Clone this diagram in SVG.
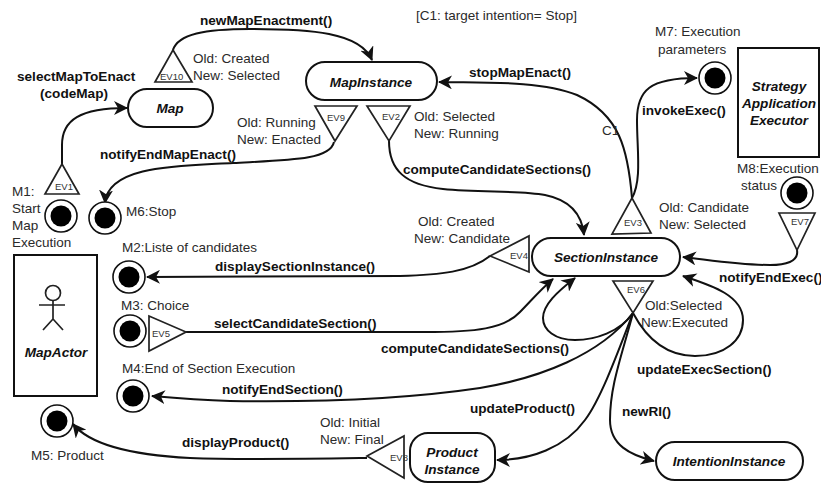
<svg xmlns="http://www.w3.org/2000/svg" width="821" height="486" viewBox="0 0 821 486">
<style>
text{font-family:"Liberation Sans",Arial,sans-serif;font-size:13.5px;fill:#2a2a2a}
.b{font-weight:bold;font-size:13.6px;fill:#111}
.i{font-weight:bold;font-style:italic;font-size:13.6px;fill:#111;text-anchor:middle}
.e{font-size:9.5px;fill:#333}
.s{fill:#fff;stroke:#111;stroke-width:2}
.t{fill:none;stroke:#222;stroke-width:1.7}
.c{fill:none;stroke:#111;stroke-width:2}
.o{fill:#fff;stroke:#111;stroke-width:1.6}
</style>
<defs>
<marker id="a" viewBox="0 0 14 14" refX="13" refY="7" markerWidth="14" markerHeight="14" markerUnits="userSpaceOnUse" orient="auto"><path d="M0 0L14 7L0 14L4 7Z" fill="#111"/></marker>
<g id="msg"><circle r="16" class="o"/><circle r="10.5" fill="#000"/></g>
</defs>
<rect width="821" height="486" fill="#fff"/>
<g id="connectors">
<path class="c" marker-end="url(#a)" d="M62 164V145C62 120 80 108 127 108"/>
<path class="c" marker-end="url(#a)" d="M173 50C178 34 205 29 250 29C310 29 360 32 372 60"/>
<path class="c" marker-end="url(#a)" d="M334 142C330 160 290 160 233 163C180 166 108 165 105 203"/>
<path class="c" marker-end="url(#a)" d="M389 141C389 170 405 185 443 189C480 193 520 190 545 195C570 200 582 215 584 235"/>
<path class="c" marker-end="url(#a)" d="M632 198C628 150 620 115 577 95C540 80 480 83 439 82"/>
<path class="c" marker-end="url(#a)" d="M632 198C642 180 637 150 637 120C637 90 650 78 697 78"/>
<path class="c" marker-end="url(#a)" d="M797 250C799 262 785 265 770 265C740 265 710 260 683 257"/>
<path class="c" marker-end="url(#a)" d="M490 256C470 272 440 275 400 276C320 277 230 276 147 277"/>
<path class="c" marker-end="url(#a)" d="M186 332H410C480 333 505 328 520 312C530 302 540 290 553 279"/>
<path class="c" marker-end="url(#a)" d="M633 313C620 332 595 340 575 340C555 340 543 330 543 318C543 305 557 292 575 278"/>
<path class="c" marker-end="url(#a)" d="M633 313C600 355 540 378 480 388C400 400 300 402 230 401C200 400 175 398 152 396"/>
<path class="c" marker-end="url(#a)" d="M633 313C650 345 672 356 695 356C725 356 743 340 743 320C743 295 710 285 683 276"/>
<path class="c" marker-end="url(#a)" d="M633 313C615 360 600 400 585 420C565 448 530 460 497 460"/>
<path class="c" marker-end="url(#a)" d="M633 313C622 355 610 385 610 420C610 445 630 455 654 461"/>
<path class="c" marker-end="url(#a)" d="M367 458C300 459 240 460 190 458C130 455 90 445 73 424"/>
</g>
<g id="Map"><rect class="s" x="128" y="89" width="85" height="38" rx="19"/><text class="i" x="170" y="113">Map</text></g>
<g id="MapInstance"><rect class="s" x="306" y="62" width="131" height="38" rx="19"/><text class="i" x="371" y="87">MapInstance</text></g>
<g id="SectionInstance"><rect class="s" x="532" y="238" width="148" height="38" rx="19"/><text class="i" x="606" y="262">SectionInstance</text></g>
<g id="ProductInstance"><rect class="s" x="410" y="433" width="85" height="49" rx="18"/><text class="i" x="452" y="457">Product</text><text class="i" x="452" y="474">Instance</text></g>
<g id="IntentionInstance"><rect class="s" x="656" y="442" width="147" height="38" rx="19"/><text class="i" x="729" y="466">IntentionInstance</text></g>
<g id="MapActor"><rect class="s" x="14" y="255" width="83" height="141"/>
<g class="t"><circle cx="53" cy="293" r="7.5"/><path d="M53 300V319M39 305H65M53 319L43 330M53 319L63 330"/></g>
<text class="i" x="56" y="357">MapActor</text></g>
<g id="StrategyApplicationExecutor"><rect class="s" x="738" y="48" width="81" height="109"/><text class="i" x="779" y="91">Strategy</text><text class="i" x="779" y="108">Application</text><text class="i" x="779" y="125">Executor</text></g>
<g id="EV10"><path class="t" d="M173 50L155 82H192Z"/><text class="e" x="160" y="80">EV10</text></g>
<g id="EV1"><path class="t" d="M62 164L45 194H79Z"/><text class="e" x="55" y="190">EV1</text></g>
<g id="EV9"><path class="t" d="M315 106H357L335 141Z"/><text class="e" x="327" y="121">EV9</text></g>
<g id="EV2"><path class="t" d="M367 106H410L389 141Z"/><text class="e" x="382" y="120">EV2</text></g>
<g id="EV3"><path class="t" d="M632 198L612 234L651 233Z"/><text class="e" x="624" y="226">EV3</text></g>
<g id="EV7"><path class="t" d="M779 213H815L797 250Z"/><text class="e" x="791" y="225">EV7</text></g>
<g id="EV4"><path class="t" d="M490 256L529 236V272Z"/><text class="e" x="510" y="259">EV4</text></g>
<g id="EV5"><path class="t" d="M149 316V351L186 332Z"/><text class="e" x="152" y="337">EV5</text></g>
<g id="EV6"><path class="t" d="M613 281H653L633 313Z"/><text class="e" x="627" y="293">EV6</text></g>
<g id="EV8"><path class="t" d="M367 456L404 436V478Z"/><text class="e" x="390" y="461">EV8</text></g>
<g id="M1"><use href="#msg" x="61" y="216"/><text x="12" y="196">M1:</text><text x="12" y="213">Start</text><text x="12" y="230">Map</text><text x="12" y="247">Execution</text></g>
<g id="M6"><use href="#msg" x="105" y="218"/><text x="126" y="216">M6:Stop</text></g>
<g id="M2"><use href="#msg" x="129" y="277"/><text x="122" y="252">M2:Liste of candidates</text></g>
<g id="M3"><use href="#msg" x="130" y="331"/><text x="121" y="310">M3: Choice</text></g>
<g id="M4"><use href="#msg" x="133" y="396"/><text x="122" y="373">M4:End of Section Execution</text></g>
<g id="M5"><use href="#msg" x="57" y="421"/><text x="31" y="460">M5: Product</text></g>
<g id="M7"><use href="#msg" x="715" y="78"/><text x="655" y="36">M7: Execution</text><text x="658" y="54">parameters</text></g>
<g id="M8"><use href="#msg" x="797" y="193"/><text x="737" y="173">M8:Execution</text><text x="741" y="190">status</text></g>
<g id="labels">
<text class="b" x="200" y="25">newMapEnactment()</text>
<text class="b" x="17" y="81">selectMapToEnact</text><text class="b" x="40" y="98">(codeMap)</text>
<text x="193" y="63">Old: Created</text><text x="193" y="80">New: Selected</text>
<text x="237" y="127">Old: Running</text><text x="237" y="144">New: Enacted</text>
<text class="b" x="100" y="159">notifyEndMapEnact()</text>
<text x="414" y="121">Old: Selected</text><text x="414" y="138">New: Running</text>
<text class="b" x="403" y="174">computeCandidateSections()</text>
<text x="416" y="20">[C1: target intention= Stop]</text>
<text class="b" x="469" y="77">stopMapEnact()</text>
<text x="602" y="135">C1</text>
<text class="b" x="642" y="115">invokeExec()</text>
<text x="659" y="212">Old: Candidate</text><text x="659" y="229">New: Selected</text>
<text x="418" y="226">Old: Created</text><text x="414" y="243">New: Candidate</text>
<text class="b" x="215" y="271">displaySectionInstance()</text>
<text class="b" x="214" y="328">selectCandidateSection()</text>
<text class="b" x="381" y="353">computeCandidateSections()</text>
<text class="b" x="222" y="394">notifyEndSection()</text>
<text class="b" x="470" y="413">updateProduct()</text>
<text class="b" x="622" y="416">newRI()</text>
<text class="b" x="637" y="374">updateExecSection()</text>
<text class="b" x="719" y="282">notifyEndExec()</text>
<text x="645" y="310">Old:Selected</text><text x="641" y="327">New:Executed</text>
<text x="320" y="427">Old: Initial</text><text x="320" y="444">New: Final</text>
<text class="b" x="182" y="447">displayProduct()</text>
</g>
</svg>
